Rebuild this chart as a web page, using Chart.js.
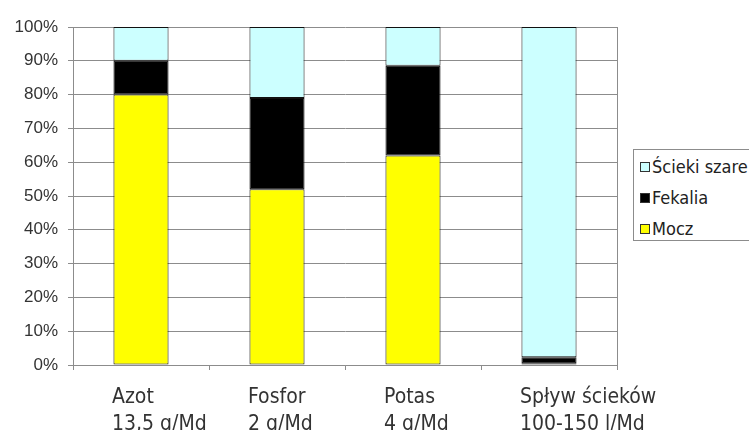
<!DOCTYPE html>
<html>
<head>
<meta charset="utf-8">
<script src="https://cdn.jsdelivr.net/npm/chart.js@4"></script>
<style>
  body { margin: 0; background: #fff; overflow: hidden; }
  #wrap { position: relative; width: 749px; height: 430px; }
  #legend {
    position: absolute; left: 633px; top: 149px; width: 140px; height: 92px;
    border: 1px solid #8c8c8c; box-sizing: border-box; background: #fff;
    font-family: "DejaVu Sans Condensed", "DejaVu Sans", sans-serif; font-size: 18px; color: #222;
  }
  .item { position: absolute; left: 6px; height: 22px; line-height: 22px; white-space: nowrap; }
  .box { display: inline-block; width: 8px; height: 8px; border: 1px solid #333; margin-right: 2px; vertical-align: 1px; }
</style>
</head>
<body>
<div id="wrap">
  <canvas id="chart" width="749" height="430"></canvas>
  <div id="legend"></div>
</div>
<script>
  "use strict";

  const categories = [
    ["Azot", "13,5 g/Md"],
    ["Fosfor", "2 g/Md"],
    ["Potas", "4 g/Md"],
    ["Spływ ścieków", "100-150 l/Md"],
  ];
  const seriesNames = ["Mocz", "Fekalia", "Ścieki szare"];
  const moczValues = [80, 52, 62, 0.5];
  const fekaliaValues = [10, 27, 26.5, 1.8];
  const szareValues = [10, 21, 11.5, 97.7];
  const yTicks = [0, 10, 20, 30, 40, 50, 60, 70, 80, 90, 100];

  const colors = ["#ffff00", "#000000", "#ccffff"];
  const gridColor = "#8c8c8c";

  const datasets = [moczValues, fekaliaValues, szareValues].map(function (vals, i) {
    return {
      label: seriesNames[i],
      data: vals,
      backgroundColor: colors[i],
      borderColor: "#111",
      borderWidth: 1,
      borderSkipped: false,
      barPercentage: 0.405,
      categoryPercentage: 1,
    };
  });

  const ctx = document.getElementById("chart").getContext("2d");
  const chart = new Chart(ctx, {
    type: "bar",
    data: { labels: categories, datasets: datasets },
    options: {
      responsive: false,
      animation: false,
      devicePixelRatio: 1,
      layout: { padding: { top: 27, right: 132, left: 0, bottom: 0 } },
      plugins: { legend: { display: false }, tooltip: { enabled: false } },
      scales: {
        x: {
          stacked: true,
          afterFit: function (scale) { scale.height = 65; },
          border: { color: gridColor },
          grid: {
            offset: true,
            color: function (c) { return c.type === "scale" ? gridColor : "transparent"; },
            tickColor: gridColor,
            tickLength: 5,
          },
          ticks: {
            color: "#333",
            padding: 14,
            align: "start",
            labelOffset: -29,
            autoSkip: false,
            maxRotation: 0,
            minRotation: 0,
            font: { family: "'DejaVu Sans Condensed', 'DejaVu Sans'", size: 21, lineHeight: 1.3 },
          },
        },
        y: {
          stacked: true,
          min: 0,
          max: 100,
          afterFit: function (scale) { scale.width = 73; },
          afterBuildTicks: function (scale) {
            scale.ticks = yTicks.map(function (v) { return { value: v }; });
          },
          border: { color: gridColor },
          grid: { color: gridColor, tickLength: 5 },
          ticks: {
            color: "#333",
            padding: 10,
            font: { family: "'Liberation Sans', Arial", size: 17 },
            callback: function (v) { return v + "%"; },
          },
        },
      },
    },
  });

  // legend, top to bottom in reverse stack order
  const legend = document.getElementById("legend");
  const tops = [6, 37, 68];
  for (let i = seriesNames.length - 1, k = 0; i >= 0; i--, k++) {
    const row = document.createElement("div");
    row.className = "item";
    row.style.top = tops[k] + "px";
    row.innerHTML = '<span class="box" style="background:' + colors[i] + '"></span>' + seriesNames[i];
    legend.appendChild(row);
  }
</script>
</body>
</html>
